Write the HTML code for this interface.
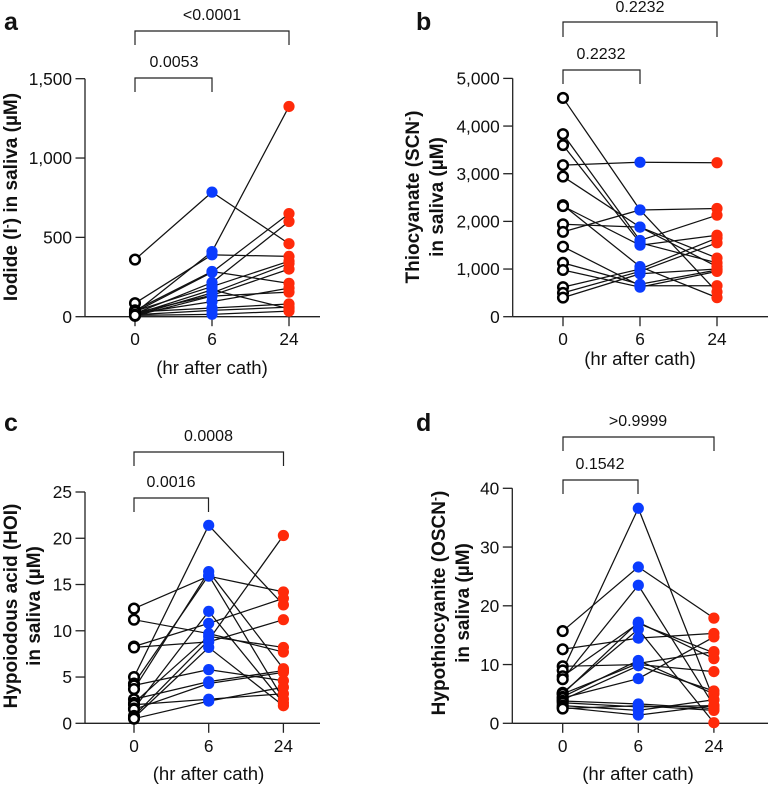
<!DOCTYPE html>
<html lang="en">
<head>
<meta charset="utf-8">
<title>Saliva measurements after catheterization</title>
<style>
html,body{margin:0;padding:0;background:#fff;}
svg{display:block;font-family:"Liberation Sans",Arial,sans-serif;fill:#111;}
.tick{font-size:17.3px;}
.xt{font-size:18.6px;text-anchor:middle;}
.yt{font-size:19px;font-weight:700;text-anchor:middle;}
.p{font-size:16px;text-anchor:middle;}
.letter{font-size:25px;font-weight:700;}
.br{fill:none;stroke:#222;stroke-width:1.2;}
</style>
</head>
<body>
<svg id="fig" width="768" height="785" viewBox="0 0 768 785" xmlns="http://www.w3.org/2000/svg">
  <g id="panel-a">
    <text class="letter" x="4" y="30">a</text>
    <text class="yt" transform="translate(17,197) rotate(-90)">Iodide (I<tspan dy="-6" font-size="12">-</tspan><tspan dy="6">) in saliva (µM)</tspan></text>
    <text class="xt" x="212" y="374">(hr after cath)</text>
    <path class="br" d="M135 45V31H289V45"/>
    <text class="p" x="212" y="20">&lt;0.0001</text>
    <path class="br" d="M135 92V78H212V92"/>
    <text class="p" x="174" y="67">0.0053</text>
  </g>
  <g id="panel-b">
    <text class="letter" x="416" y="30">b</text>
    <text class="yt" transform="translate(419,197) rotate(-90)">Thiocyanate (SCN<tspan dy="-6" font-size="12">-</tspan><tspan dy="6">)</tspan></text>
    <text class="yt" transform="translate(443,197) rotate(-90)">in saliva (µM)</text>
    <text class="xt" x="640" y="365">(hr after cath)</text>
    <path class="br" d="M563 37V22H717V37"/>
    <text class="p" x="640" y="12">0.2232</text>
    <path class="br" d="M563 84V70H640V84"/>
    <text class="p" x="601" y="59">0.2232</text>
  </g>
  <g id="panel-c">
    <text class="letter" x="4" y="431">c</text>
    <text class="yt" transform="translate(17,606) rotate(-90)">Hypoiodous acid (HOI)</text>
    <text class="yt" transform="translate(40,606) rotate(-90)">in saliva (µM)</text>
    <text class="xt" x="208.500" y="780">(hr after cath)</text>
    <path class="br" d="M134 466V452H283.500V466"/>
    <text class="p" x="208.500" y="441">0.0008</text>
    <path class="br" d="M134 512V498H208.500V512"/>
    <text class="p" x="171" y="487">0.0016</text>
  </g>
  <g id="panel-d">
    <text class="letter" x="416" y="431">d</text>
    <text class="yt" transform="translate(445,603) rotate(-90)">Hypothiocyanite (OSCN<tspan dy="-6" font-size="12">-</tspan><tspan dy="6">)</tspan></text>
    <text class="yt" transform="translate(469,603) rotate(-90)">in saliva (µM)</text>
    <text class="xt" x="638" y="780">(hr after cath)</text>
    <path class="br" d="M563 451V437H714V451"/>
    <text class="p" x="638" y="426">&gt;0.9999</text>
    <path class="br" d="M563 494V480H638V494"/>
    <text class="p" x="600" y="469">0.1542</text>
  </g>
</svg>
<script>
// Chart data: every index is one paired subject across the three timepoints.
const hourCategories = ['0', '6', '24'];

const iodideTicks = [0, 500, 1000, 1500];
const iodideHour0 = [360, 85, 40, 30, 25, 20, 35, 15, 10, 25, 5, 20, 30, 12, 8];
const iodideHour6 = [785, 390, 285, 280, 410, 215, 190, 170, 150, 135, 130, 95, 55, 40, 15];
const iodideHour24 = [460, 380, 210, 650, 1325, 600, 350, 50, 335, 300, 155, 180, 80, 60, 35];

const thiocyanateTicks = [0, 1000, 2000, 3000, 4000, 5000];
const thiocyanateHour0 = [4590, 3830, 3600, 3180, 2940, 2340, 2320, 1940, 1780, 1470, 1130, 980, 620, 500, 400];
const thiocyanateHour6 = [2240, 1600, 1550, 3240, 1880, 1050, 1500, 1880, 2240, 650, 680, 620, 1000, 950, 900];
const thiocyanateHour24 = [520, 2130, 1130, 3230, 1050, 400, 1710, 1230, 2270, 650, 980, 950, 1650, 1550, 1000];

const hypoiodousTicks = [0, 5, 10, 15, 20, 25];
const hypoiodousHour0 = [12.4, 11.2, 8.3, 8.2, 5, 4.3, 4.1, 3.7, 2.6, 2.2, 2, 1.6, 1.5, 0.8, 0.6, 0.5];
const hypoiodousHour6 = [15.9, 9.7, 10.8, 8.8, 21.4, 16, 5.8, 16.4, 4.5, 9.4, 2.6, 12.1, 4.3, 9, 8.2, 2.4];
const hypoiodousHour24 = [14.2, 7.7, 13.5, 11.2, 12.8, 2.6, 4.6, 5.9, 5.7, 8.2, 3.2, 2.2, 5.5, 20.3, 1.9, 3.9];

const hypothiocyaniteTicks = [0, 10, 20, 30, 40];
const hypothiocyaniteHour0 = [15.7, 12.6, 9.7, 9, 8, 7.5, 5.2, 5, 5, 4.5, 4, 4.3, 3.8, 3.5, 3, 2.7, 2.5];
const hypothiocyaniteHour6 = [26.6, 14.5, 10, 36.6, 17, 23.5, 16, 17.2, 10.2, 10.7, 9.8, 7.6, 3.3, 2.8, 2.2, 1.4, 3];
const hypothiocyaniteHour24 = [17.9, 15.3, 8.8, 4, 12, 3, 0.1, 11, 12.2, 5, 5.5, 14.7, 2.5, 3, 4, 3, 2.2];

const SVG_NS = 'http://www.w3.org/2000/svg';
const MARK_COLORS = ['#fff', '#0a3cff', '#ff2a0a'];

function make(tag, attrs, parent) {
  const el = document.createElementNS(SVG_NS, tag);
  for (const key in attrs) el.setAttribute(key, attrs[key]);
  parent.appendChild(el);
  return el;
}

function drawPanel(panelId, ticks, hours, frame) {
  const group = document.getElementById(panelId);
  const maxTick = ticks[ticks.length - 1];
  const yScale = v => frame.y0 - (v / maxTick) * (frame.y0 - frame.yTop);
  const xScale = i => frame.xs[0] + i * (frame.xs[1] - frame.xs[0]);

  const yAxis = make('line', { x1: frame.axisX, x2: frame.axisX, y1: yScale(maxTick), y2: frame.y0, stroke: '#222', 'stroke-width': 1.3 }, group);
  
  
  const xAxis = make('line', { x1: frame.axisX, x2: frame.xEnd, y1: frame.y0, y2: frame.y0, stroke: '#222', 'stroke-width': 1.3 }, group);
  
  

  ticks.forEach(tick => {
    const y = yScale(tick);
    const mark = make('line', { x1: frame.axisX - 9.500, x2: frame.axisX, y1: y, y2: y, stroke: '#222', 'stroke-width': 1.3 }, group);
    
    
    const label = make('text', { class: 'tick', x: frame.axisX - 13, y: y + 6.200, 'text-anchor': 'end' }, group);
    
    
    label.textContent = tick.toLocaleString('en-US');
  });

  hourCategories.forEach((category, i) => {
    const x = xScale(i);
    const mark = make('line', { x1: x, x2: x, y1: frame.y0, y2: frame.y0 + 9.500, stroke: '#222', 'stroke-width': 1.3 }, group);
    
    
    const label = make('text', { class: 'tick', x: x, y: frame.y0 + 28.500, 'text-anchor': 'middle' }, group);
    
    
    label.textContent = category;
  });

  hours[0].forEach((_, s) => {
    for (let i = 0; i < hours.length - 1; i++) {
      const seg = make('line', { x1: xScale(i), y1: yScale(hours[i][s]), x2: xScale(i + 1), y2: yScale(hours[i + 1][s]), stroke: '#111', 'stroke-width': 1.25 }, group);
      
      
    }
  });

  hours.forEach((values, i) => {
    values.forEach(v => {
      const open = i === 0;
      const dot = make('circle', {
        cx: xScale(i), cy: yScale(v), r: open ? 4.800 : 5.600,
        fill: MARK_COLORS[i], stroke: open ? '#000' : 'none', 'stroke-width': open ? 2.500 : 0
      }, group);
      
      
    });
  });
}

drawPanel('panel-a', iodideTicks, [iodideHour0, iodideHour6, iodideHour24],
  { axisX: 85, xEnd: 320, y0: 316.700, yTop: 78.700, xs: [135, 212] });
drawPanel('panel-b', thiocyanateTicks, [thiocyanateHour0, thiocyanateHour6, thiocyanateHour24],
  { axisX: 512.700, xEnd: 768, y0: 316.700, yTop: 78.400, xs: [563, 640] });
drawPanel('panel-c', hypoiodousTicks, [hypoiodousHour0, hypoiodousHour6, hypoiodousHour24],
  { axisX: 85, xEnd: 320, y0: 723.300, yTop: 492, xs: [134, 208.700] });
drawPanel('panel-d', hypothiocyaniteTicks, [hypothiocyaniteHour0, hypothiocyaniteHour6, hypothiocyaniteHour24],
  { axisX: 512.300, xEnd: 768, y0: 723.300, yTop: 488.300, xs: [562.700, 638.300] });
</script>
</body>
</html>
